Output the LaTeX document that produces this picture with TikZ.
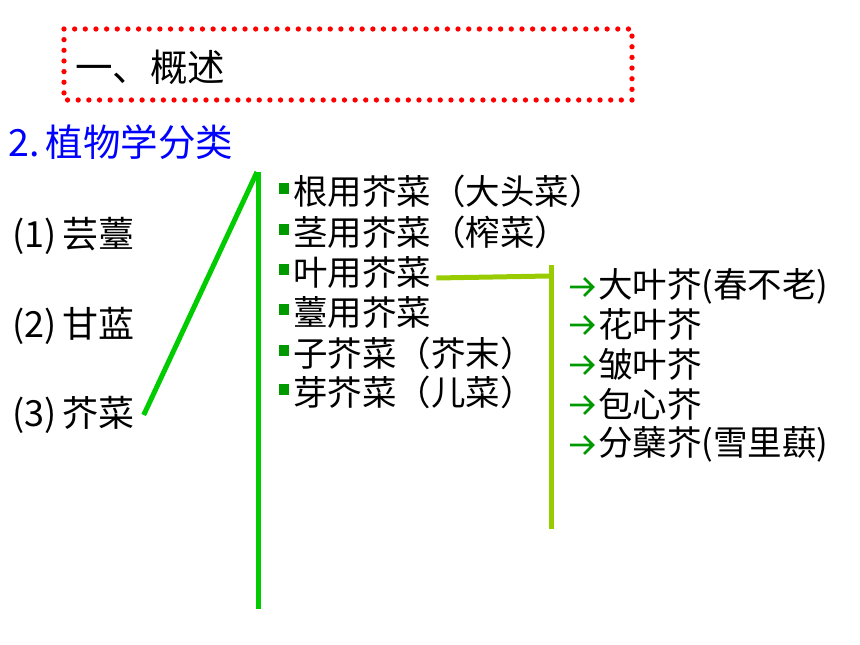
\documentclass[tikz,border=0pt]{standalone}
\usepackage{fontspec}
\setmainfont{Noto Sans CJK SC}
\definecolor{linegreen}{RGB}{0,204,0}
\definecolor{leafgreen}{RGB}{153,204,0}
\definecolor{bulletgreen}{RGB}{0,153,0}
\begin{document}
\begin{tikzpicture}[x=1pt, y=-1pt,
            title/.style={anchor=west, inner sep=0pt, font=\fontsize{37.5}{42}\selectfont},
            species/.style={anchor=west, inner sep=0pt, font=\fontsize{36}{40}\selectfont},
            item/.style={anchor=west, inner sep=0pt, font=\fontsize{34.5}{38}\selectfont},
            bullet/.style={fill=bulletgreen, minimum size=10.5pt, inner sep=0pt},
            arrowmark/.style={bulletgreen, line width=2.6pt, line join=miter},
            main_line/.style={linegreen, line width=5pt},
            leaf_line/.style={leafgreen, line width=5pt}
        ]
        \useasboundingbox (0,0) rectangle (860,645);

        % Heading in the dotted frame
        \draw[red, line width=5.3pt, line cap=round, dash pattern=on 0pt off 10.65pt] (64,29) rectangle (632,100);
        \node[title] (head) at (75,67) {一、概述};
        \node[title, text=blue] (sub) at (8,142) {2.\,植物学分类};

        % Species
        \node[species] (sp1) at (12,236) {(1)\,芸薹};
        \node[species] (sp2) at (12,326) {(2)\,甘蓝};
        \node[species] (sp3) at (12,415) {(3)\,芥菜};

        % Trunk line
        \coordinate (ttop) at (258,172);
        \coordinate (tbot) at (258,609);
        \draw[main_line] (ttop) -- (tbot);
        \draw[main_line] ([xshift=9pt]sp3.east) -- ([xshift=-1pt]ttop);

        % Mustard groups
        \foreach \i/\y/\txt in {1/191/根用芥菜（大头菜）, 2/232/茎用芥菜（榨菜）, 3/272/叶用芥菜,
                                4/312/薹用芥菜, 5/353/子芥菜（芥末）, 6/392/芽芥菜（儿菜）} {
            \node[bullet] (b\i) at (284,\y-2.5) {};
            \node[item] (g\i) at (293,\y) {\txt};
        }

        % Leaf mustards
        \coordinate (ltop) at (551.5,265);
        \coordinate (lbot) at (551.5,529);
        \draw[leaf_line] (ltop) -- (lbot);
        \draw[leaf_line] ([xshift=5pt, yshift=-6pt]g3.east) -- (549,276);

        \foreach \i/\y/\txt in {1/286/大叶芥(春不老), 2/324/花叶芥, 3/364/皱叶芥, 4/404/包心芥, 5/444/分蘖芥(雪里蕻)} {
            \node[item] (l\i) at (598,\y) {\txt};
            \draw[arrowmark] ([xshift=-28pt, yshift=-1pt]l\i.west) -- ([xshift=-5pt, yshift=-1pt]l\i.west)
                ([xshift=-14pt, yshift=-10pt]l\i.west) -- ([xshift=-5pt, yshift=-1pt]l\i.west) -- ([xshift=-14pt, yshift=8pt]l\i.west);
        }

    \end{tikzpicture}
\end{document}
